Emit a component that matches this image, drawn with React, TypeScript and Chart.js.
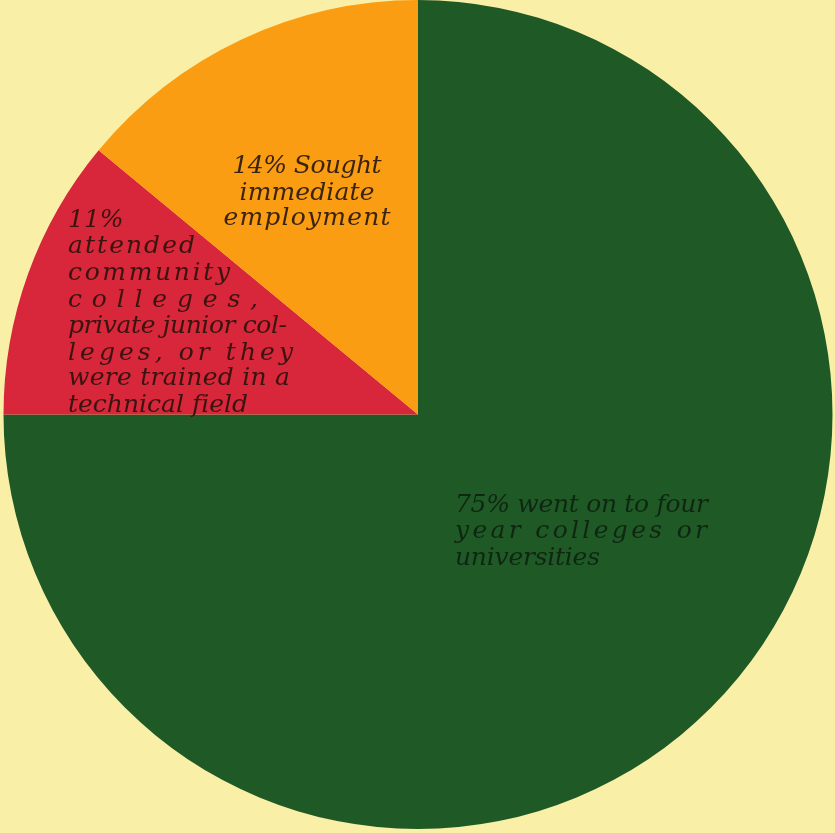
import React, { useEffect, useRef } from "react";
import { Chart, registerables } from "chart.js";

Chart.register(...registerables);

const categories = [
  "75% went on to four year colleges or universities",
  "11% attended community colleges, private junior colleges, or they were trained in a technical field",
  "14% Sought immediate employment",
];
const values = [75, 11, 14];
const sliceColors = ["#1f5a26", "#d8263a", "#fb9d12"];
const textColors = ["#0f2712", "#3a1410", "#3a2410"];

// label lines per slice (as printed in the picture)
const greenLines = ["75% went on to four", "year colleges or", "universities"];
const redLines = [
  "11%",
  "attended",
  "community",
  "colleges,",
  "private junior col-",
  "leges, or they",
  "were trained in a",
  "technical field",
];
const orangeLines = ["14% Sought", "immediate", "employment"];

type Block = {
  lines: string[];
  align: "left" | "center";
  dx: number;
  dy: number[];
  widths: number[]; // 0 = natural width
  color: string;
};

const blocks: Block[] = [
  {
    lines: greenLines,
    align: "left",
    dx: 37,
    dy: [97.5, 123.5, 150.5],
    widths: [253, 252, 145],
    color: textColors[0],
  },
  {
    lines: redLines,
    align: "left",
    dx: -350,
    dy: [-187.5, -161.5, -134.5, -107.5, -81.5, -54.5, -29.5, -2.5],
    widths: [0, 127, 162, 190, 219, 225, 222, 180],
    color: textColors[1],
  },
  {
    lines: orangeLines,
    align: "center",
    dx: -111,
    dy: [-241.5, -214.5, -189.5],
    widths: [149, 135, 167],
    color: textColors[2],
  },
];

const labelPlugin = {
  id: "sliceLabels",
  afterDatasetsDraw(chart: any) {
    const arc = chart.getDatasetMeta(0).data[0];
    if (!arc) return;
    const cx = arc.x;
    const cy = arc.y;
    const ctx = chart.ctx as CanvasRenderingContext2D;
    ctx.save();
    ctx.font = "italic 25px 'DejaVu Serif'";
    ctx.textBaseline = "alphabetic";
    ctx.textAlign = "left";
    for (const b of blocks) {
      ctx.fillStyle = b.color;
      b.lines.forEach((line, i) => {
        const chars = Array.from(line);
        const widths = chars.map((c) => ctx.measureText(c).width);
        const natural = widths.reduce((a, w) => a + w, 0);
        const target = b.widths[i] || natural;
        const gap = chars.length > 1 ? (target - natural) / (chars.length - 1) : 0;
        let x = b.align === "center" ? cx + b.dx - target / 2 : cx + b.dx;
        const y = cy + b.dy[i];
        chars.forEach((c, k) => {
          ctx.fillText(c, x, y);
          x += widths[k] + gap;
        });
      });
    }
    ctx.restore();
  },
};

export default function App() {
  const ref = useRef<HTMLCanvasElement | null>(null);
  useEffect(() => {
    if (!ref.current) return;
    const chart = new Chart(ref.current, {
      type: "pie",
      data: {
        labels: categories,
        datasets: [
          {
            data: values,
            backgroundColor: sliceColors,
            borderWidth: 0,
          },
        ],
      },
      options: {
        responsive: false,
        animation: false,
        devicePixelRatio: 1,
        layout: { padding: { left: 1, right: 0, top: 0, bottom: 4 } },
        plugins: {
          legend: { display: false },
          tooltip: { enabled: false },
        },
      },
      plugins: [labelPlugin],
    });
    return () => chart.destroy();
  }, []);
  return (
    <div
      style={{
        position: "fixed",
        left: 0,
        top: 0,
        width: 835,
        height: 833,
        background: "#f9efa6",
        overflow: "hidden",
      }}
    >
      <canvas ref={ref} width={835} height={833} style={{ display: "block" }} />
    </div>
  );
}
